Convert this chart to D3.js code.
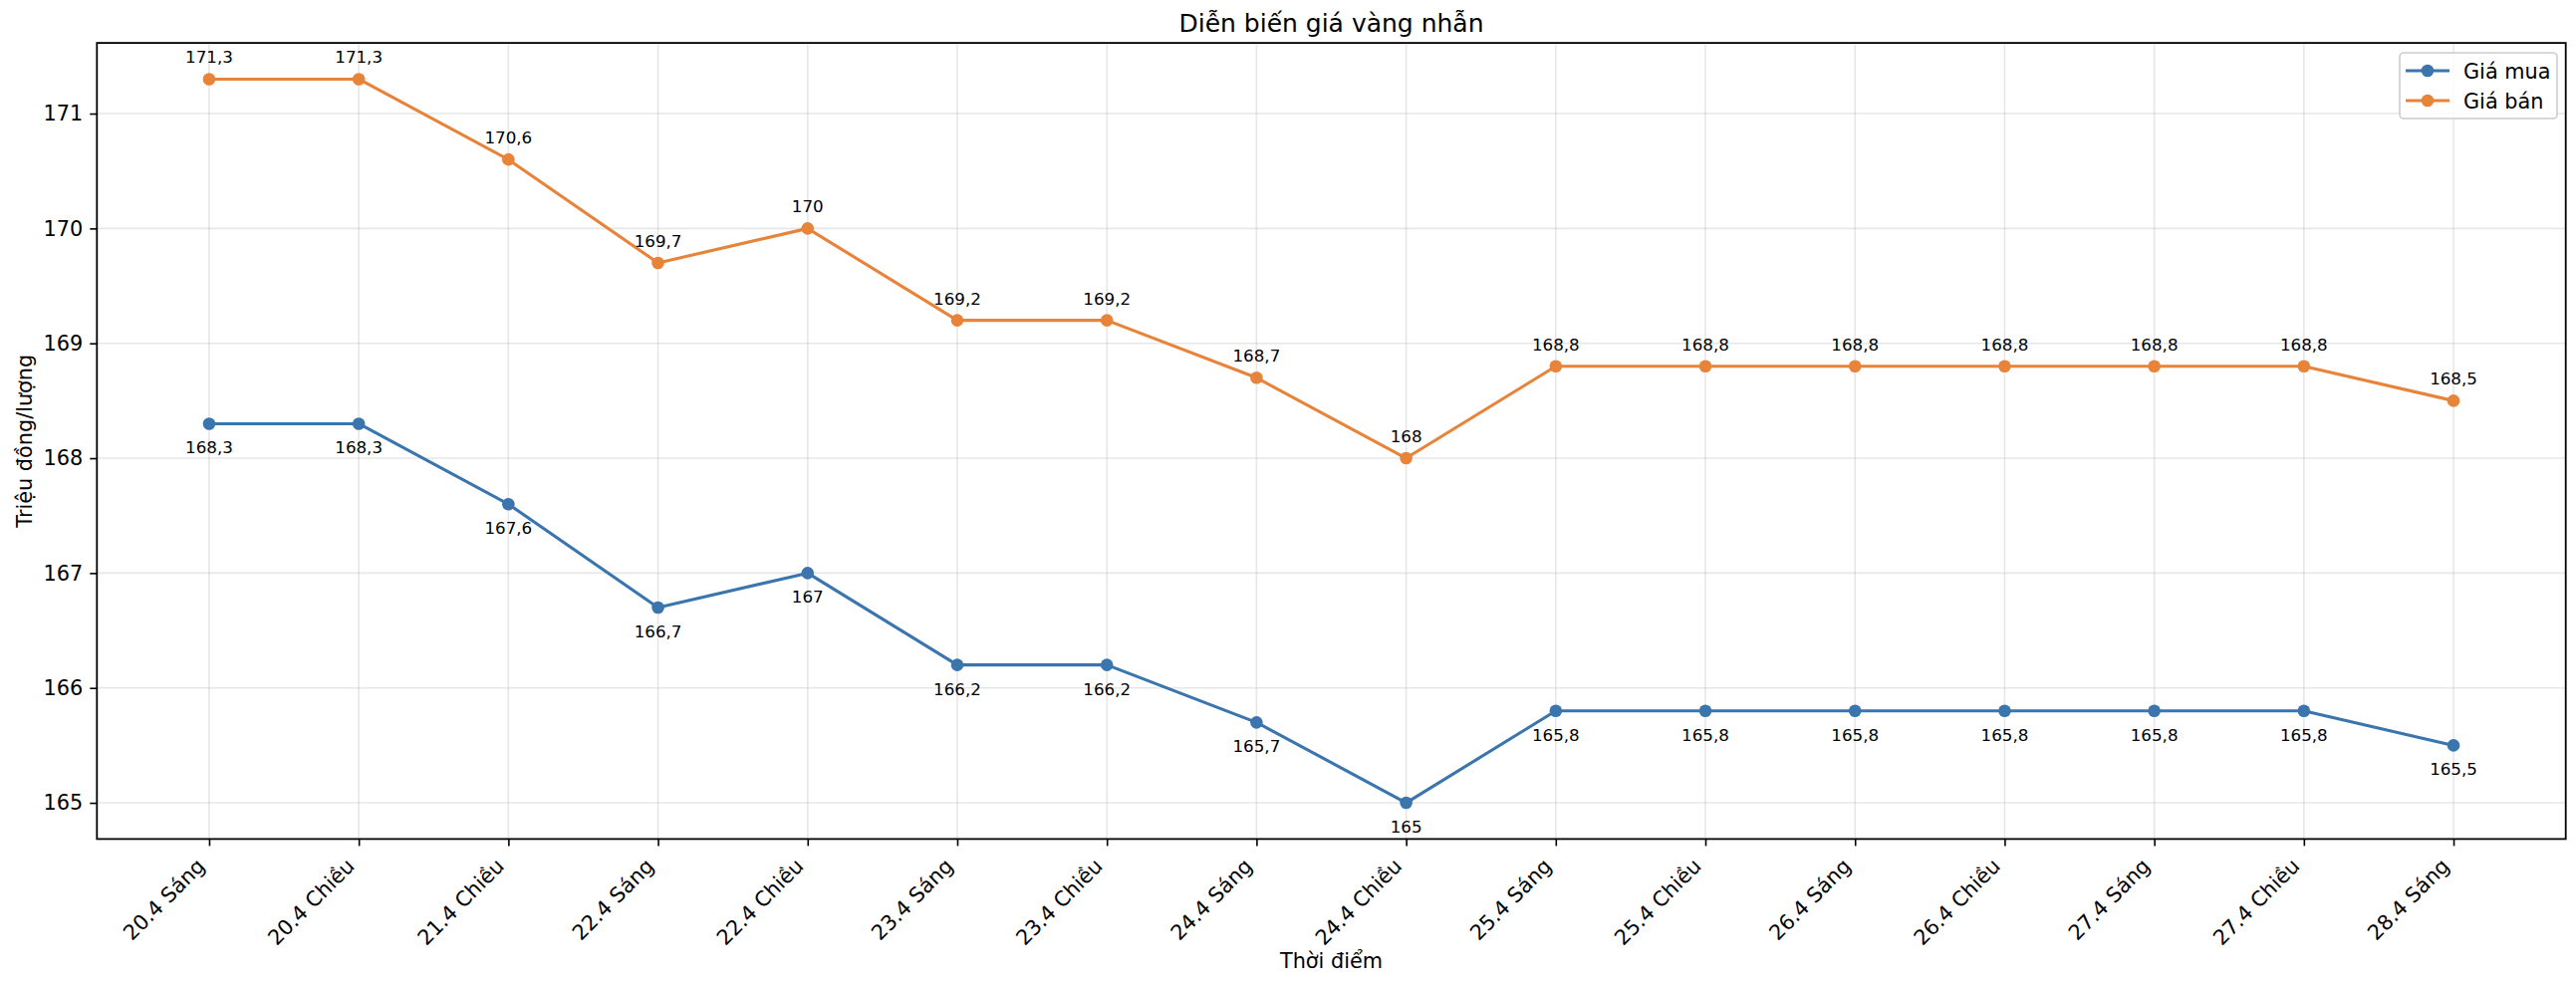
<!DOCTYPE html>
<html>
<head>
<meta charset="utf-8">
<script src="https://cdn.jsdelivr.net/npm/d3@7"></script>
<style>
  html, body { margin: 0; padding: 0; background: #fff; }
  svg { display: block; font-family: "DejaVu Sans", sans-serif; }
</style>
</head>
<body>
<svg id="chart" width="2586" height="990"></svg>
<script>
const categories = ["20.4 Sáng","20.4 Chiều","21.4 Chiều","22.4 Sáng","22.4 Chiều","23.4 Sáng","23.4 Chiều","24.4 Sáng","24.4 Chiều","25.4 Sáng","25.4 Chiều","26.4 Sáng","26.4 Chiều","27.4 Sáng","27.4 Chiều","28.4 Sáng"];
const giaMua = [168.3,168.3,167.6,166.7,167,166.2,166.2,165.7,165,165.8,165.8,165.8,165.8,165.8,165.8,165.5];
const giaBan = [171.3,171.3,170.6,169.7,170,169.2,169.2,168.7,168,168.8,168.8,168.8,168.8,168.8,168.8,168.5];
const yTicks = [165,166,167,168,169,170,171];
const seriesNames = ["Giá mua","Giá bán"];
const colors = ["#3a75ae","#e8833a"];

const W = 2586, H = 990;
const L = 97.3, R = 2575.7, T = 43.1, B = 842.4;
const svg = d3.select("#chart");

const n = categories.length;
const x = d3.scaleLinear().domain([-0.75, n - 1 + 0.75]).range([L, R]);
const allV = giaMua.concat(giaBan);
const vmin = d3.min(allV), vmax = d3.max(allV), pad = (vmax - vmin) * 0.05;
const y = d3.scaleLinear().domain([vmin - pad, vmax + pad]).range([B, T]);

// grid
const g = svg.append("g");
g.selectAll(".vg").data(d3.range(n)).enter().append("line")
  .attr("x1", d => x(d)).attr("x2", d => x(d)).attr("y1", T).attr("y2", B)
  .attr("stroke", "#b0b0b0").attr("stroke-opacity", 0.3).attr("stroke-width", 1.6);
g.selectAll(".hg").data(yTicks).enter().append("line")
  .attr("x1", L).attr("x2", R).attr("y1", d => y(d)).attr("y2", d => y(d))
  .attr("stroke", "#b0b0b0").attr("stroke-opacity", 0.3).attr("stroke-width", 1.6);

// axes
const yAxis = d3.axisLeft(y).tickValues(yTicks).tickSize(7).tickPadding(7).tickFormat(d3.format("d"));
const ya = svg.append("g").attr("transform", `translate(${L},0)`).call(yAxis);
ya.select(".domain").remove();
ya.selectAll("line").attr("stroke", "#000").attr("stroke-width", 1.6);
ya.selectAll("text").attr("font-size", 20.8).attr("fill", "#000").attr("font-family", "DejaVu Sans");

const xAxis = d3.axisBottom(x).tickValues(d3.range(n)).tickSize(7).tickFormat(i => categories[i]);
const xa = svg.append("g").attr("transform", `translate(0,${B})`).call(xAxis);
xa.select(".domain").remove();
xa.selectAll("line").attr("stroke", "#000").attr("stroke-width", 1.6);
xa.selectAll("text")
  .attr("font-size", 20.8).attr("fill", "#000").attr("font-family", "DejaVu Sans")
  .attr("text-anchor", "end").attr("dy", null)
  .attr("transform", "translate(-3.5,28.5) rotate(-45)")
  .attr("y", 0).attr("x", 0);

// frame
svg.append("rect").attr("x", L).attr("y", T).attr("width", R - L).attr("height", B - T)
  .attr("fill", "none").attr("stroke", "#000").attr("stroke-width", 1.8);

// lines
const data = [giaMua, giaBan];
const line = d3.line().x((d, i) => x(i)).y(d => y(d));
data.forEach((vals, s) => {
  svg.append("path").datum(vals).attr("d", line)
    .attr("fill", "none").attr("stroke", colors[s]).attr("stroke-width", 3.1)
    .attr("stroke-linejoin", "round");
  svg.selectAll(".pt" + s).data(vals).enter().append("circle")
    .attr("cx", (d, i) => x(i)).attr("cy", d => y(d)).attr("r", 6.3)
    .attr("fill", colors[s]);
});

const fmt = v => String(v).replace(".", ",");
// labels
svg.selectAll(".lb0").data(giaMua).enter().append("text")
  .attr("x", (d, i) => x(i)).attr("y", d => y(d) + 30)
  .attr("text-anchor", "middle").attr("font-size", 16.7).attr("fill", "#000")
  .text(d => fmt(d));
svg.selectAll(".lb1").data(giaBan).enter().append("text")
  .attr("x", (d, i) => x(i)).attr("y", d => y(d) - 16)
  .attr("text-anchor", "middle").attr("font-size", 16.7).attr("fill", "#000")
  .text(d => fmt(d));

// title & axis labels
svg.append("text").attr("x", (L + R) / 2).attr("y", 32).attr("text-anchor", "middle")
  .attr("font-size", 25).attr("fill", "#000").text("Diễn biến giá vàng nhẫn");
svg.append("text").attr("x", (L + R) / 2).attr("y", 972).attr("text-anchor", "middle")
  .attr("font-size", 20.8).attr("fill", "#000").text("Thời điểm");
svg.append("text").attr("transform", `translate(32,${(T + B) / 2}) rotate(-90)`)
  .attr("text-anchor", "middle").attr("font-size", 20.8).attr("fill", "#000").text("Triệu đồng/lượng");

// legend
const lg = svg.append("g");
lg.append("rect").attr("x", 2409).attr("y", 53).attr("width", 158).attr("height", 66)
  .attr("rx", 4).attr("fill", "#fff").attr("fill-opacity", 0.8)
  .attr("stroke", "#cccccc").attr("stroke-width", 1.6);
seriesNames.forEach((nm, s) => {
  const cy = 71 + s * 30;
  lg.append("line").attr("x1", 2415).attr("x2", 2459).attr("y1", cy).attr("y2", cy)
    .attr("stroke", colors[s]).attr("stroke-width", 3.1);
  lg.append("circle").attr("cx", 2437).attr("cy", cy).attr("r", 6.3).attr("fill", colors[s]);
  lg.append("text").attr("x", 2473).attr("y", cy + 7.5).attr("font-size", 20.8).attr("fill", "#000").text(nm);
});
</script>
</body>
</html>
